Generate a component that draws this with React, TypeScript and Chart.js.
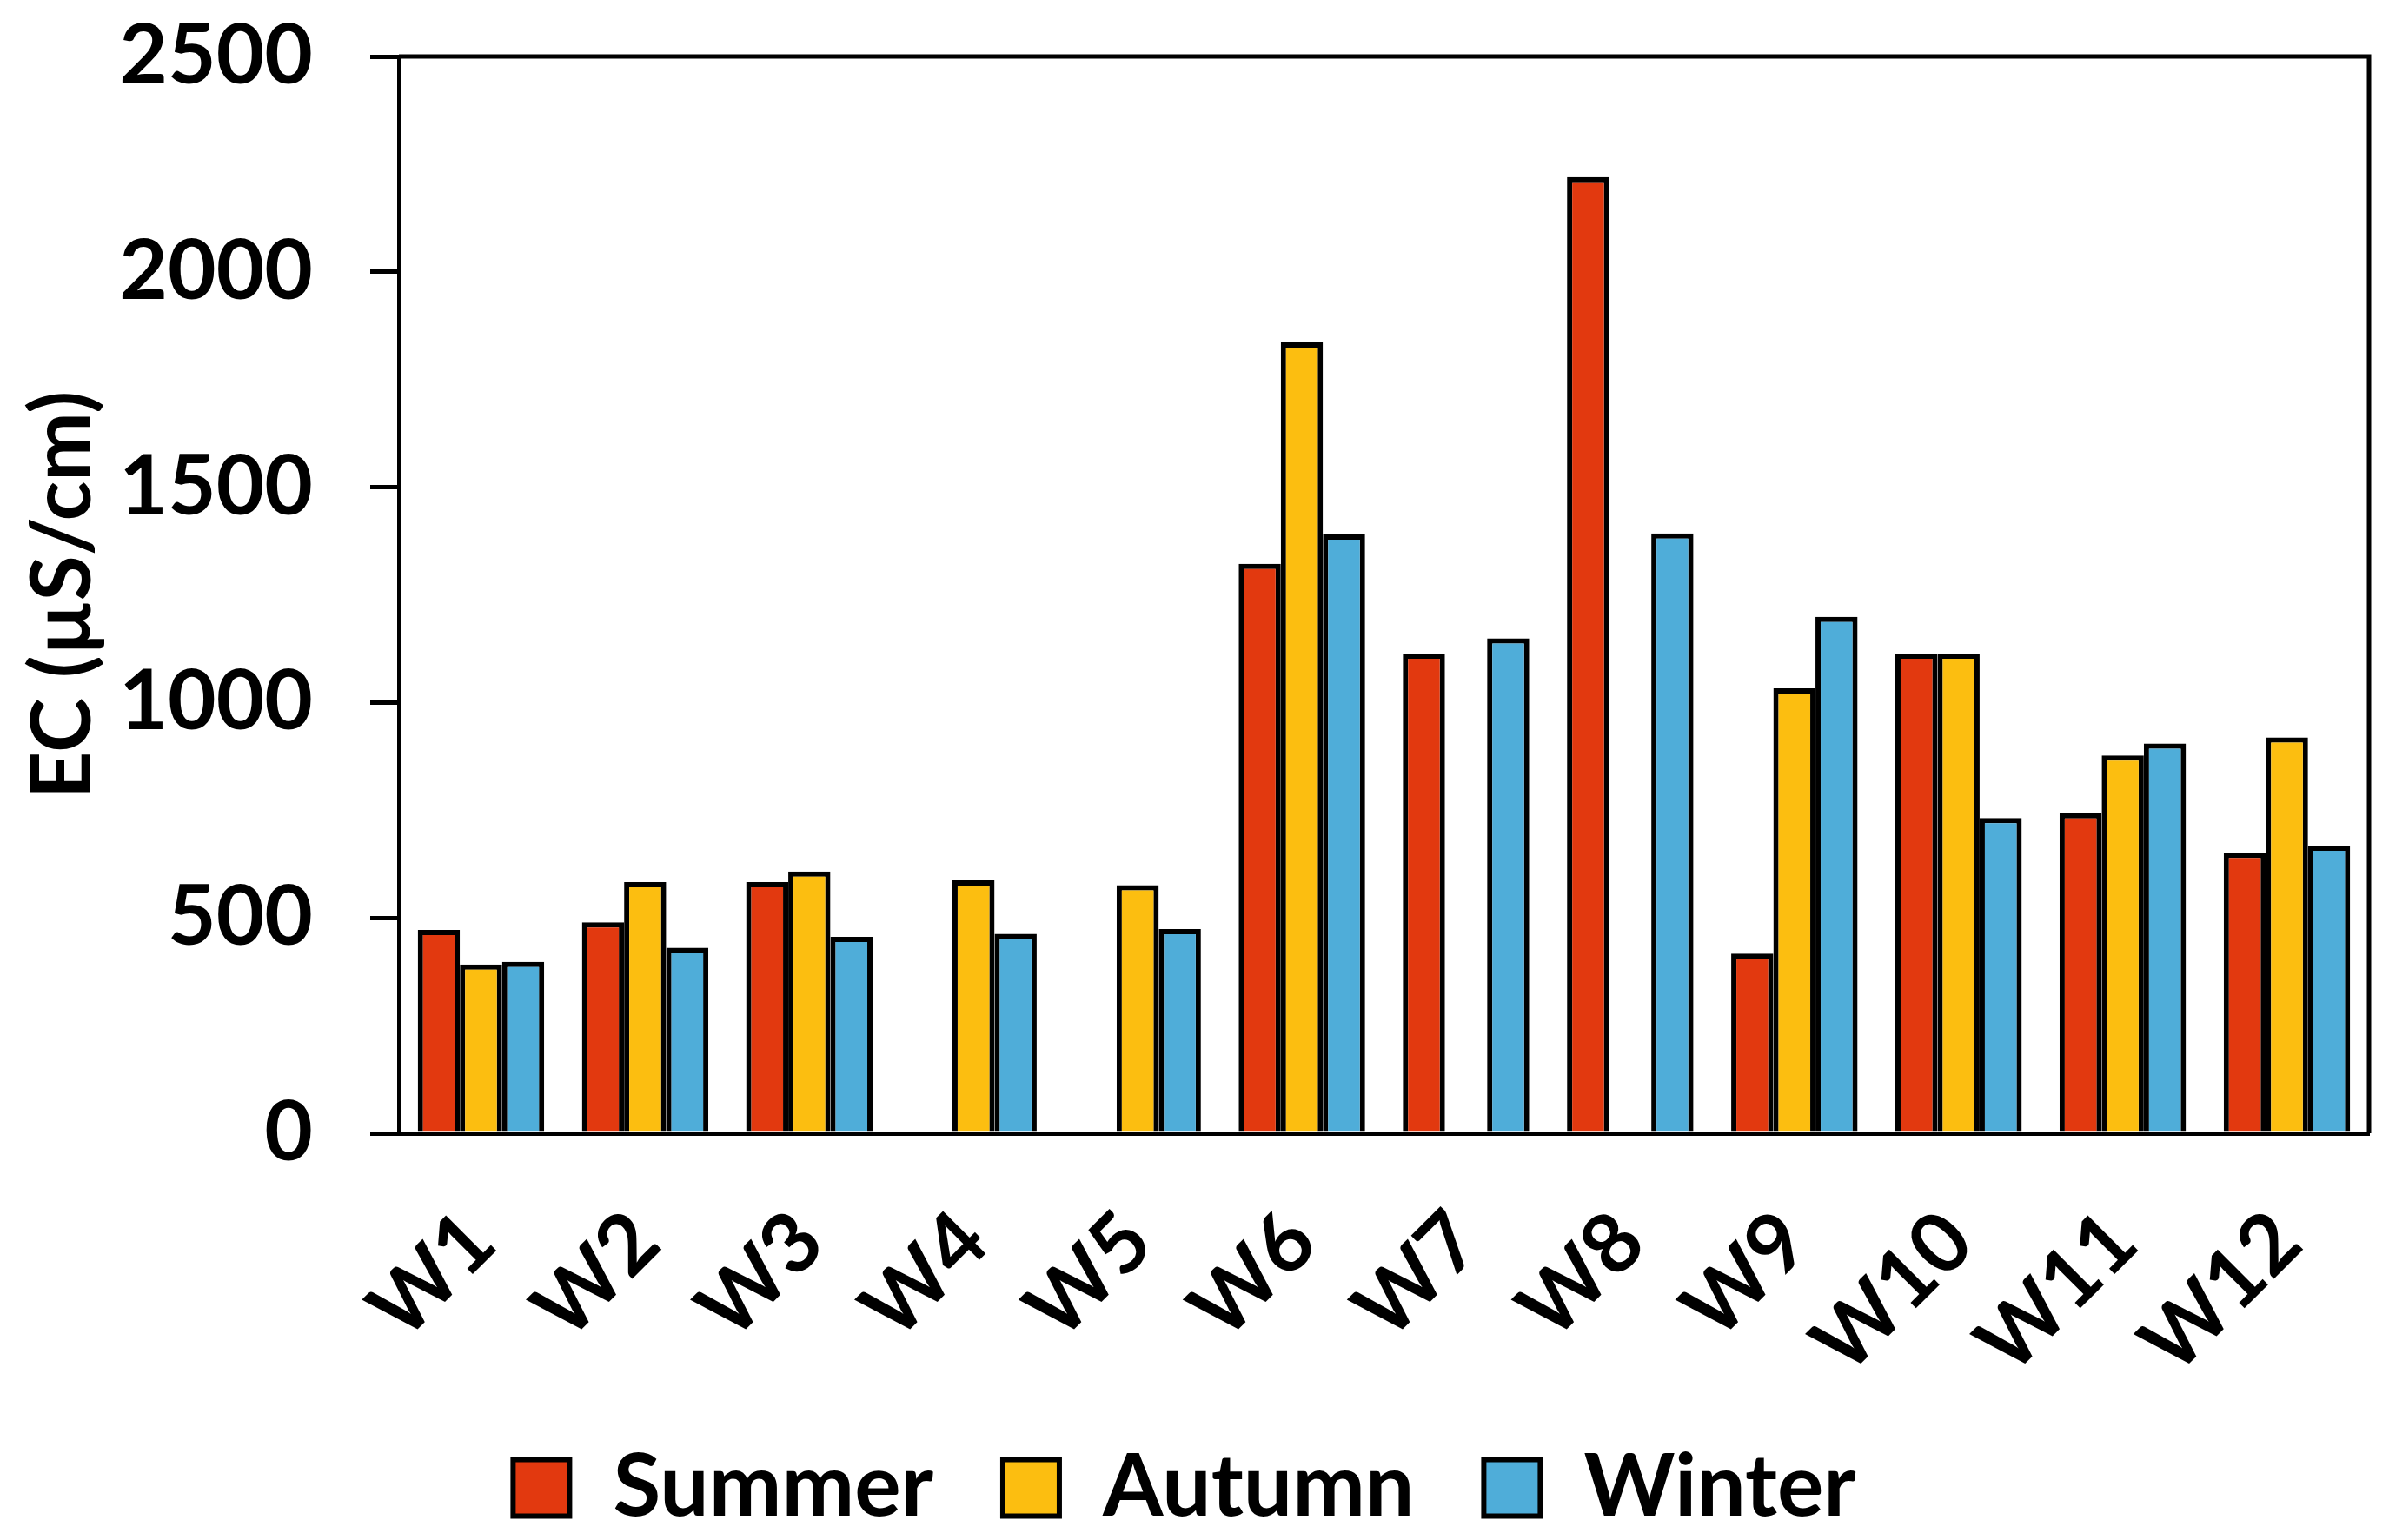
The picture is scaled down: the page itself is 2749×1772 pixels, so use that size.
import React, { useEffect, useRef } from "react";
import { Chart, registerables } from "chart.js";

Chart.register(...registerables);

const categories = ["W1", "W2", "W3", "W4", "W5", "W6", "W7", "W8", "W9", "W10", "W11", "W12"];
const summer = [472, 490, 583, null, null, 1322, 1114, 2220, 417, 1114, 743, 651];
const autumn = [392, 583, 608, 587, 576, 1836, null, null, 1033, 1114, 877, 919];
const winter = [398, 431, 456, 463, 474, 1390, 1149, 1393, 1199, 732, 905, 668];
const yTicks = [0, 500, 1000, 1500, 2000, 2500];

const FONT = "Lato, 'Open Sans', sans-serif";
const LEGEND_FONT = 100;
const LEGEND_PAD = 80;

const frame = {
  id: "frame",
  afterDraw(chart: any) {
    const { ctx, chartArea } = chart;
    ctx.save();
    ctx.strokeStyle = "#000";
    ctx.lineWidth = 5;
    ctx.beginPath();
    ctx.moveTo(chartArea.left, chartArea.top);
    ctx.lineTo(chartArea.right, chartArea.top);
    ctx.lineTo(chartArea.right, chartArea.bottom);
    ctx.stroke();
    ctx.restore();
  },
};

export default function App() {
  const ref = useRef<HTMLCanvasElement>(null);
  useEffect(() => {
    document.body.style.margin = "0";
    const chart = new Chart(ref.current!, {
      type: "bar",
      data: {
        labels: categories,
        datasets: [
          { label: "Summer", data: summer, backgroundColor: "#E2390F", borderColor: "#000", borderWidth: 6 },
          { label: "Autumn", data: autumn, backgroundColor: "#FCBE10", borderColor: "#000", borderWidth: 6 },
          { label: "Winter", data: winter, backgroundColor: "#4FADD9", borderColor: "#000", borderWidth: 6 },
        ],
      },
      options: {
        responsive: false,
        animation: false,
        devicePixelRatio: 1,
        layout: { padding: { top: 65, right: 23, left: 0, bottom: 0 } },
        datasets: { bar: { categoryPercentage: 0.77, barPercentage: 1.0 } },
        plugins: {
          tooltip: { enabled: false },
          legend: {
            position: "bottom",
            labels: {
              font: { family: FONT, size: LEGEND_FONT, weight: "bold" },
              color: "#000",
              boxWidth: 65,
              boxHeight: 65,
              padding: LEGEND_PAD,
            },
          },
        },
        scales: {
          x: {
            grid: { display: false },
            border: { display: true, color: "#000", width: 5 },
            ticks: {
              font: { family: FONT, size: 96, weight: "bold" },
              color: "#000",
              minRotation: 45,
              maxRotation: 45,
              padding: 60,
              autoSkip: false,
            },
            afterFit(scale: any) {
              scale.height = 1772 - 1304 - 0 - (LEGEND_FONT + LEGEND_PAD + 10);
              scale.paddingLeft = 0;
              scale.paddingRight = 0;
            },
          },
          y: {
            min: 0,
            max: 2500,
            afterBuildTicks(scale: any) {
              scale.ticks = yTicks.map((v) => ({ value: v }));
            },
            grid: { display: true, drawOnChartArea: false, drawTicks: true, tickLength: 33, color: "#000", lineWidth: 5 },
            border: { display: true, color: "#000", width: 5 },
            ticks: {
              font: { family: FONT, size: 96, weight: "bold" },
              color: "#000",
              padding: 66,
              callback: (v: any) => String(v),
            },
            title: {
              display: true,
              text: "EC (µS/cm)",
              color: "#000",
              font: { family: FONT, size: 95, weight: "bold" },
              padding: { top: 16, bottom: 0 },
            },
            afterFit(scale: any) {
              scale.width = 459;
              scale.paddingTop = 0;
              scale.paddingBottom = 0;
            },
          },
        },
      },
      plugins: [frame],
    });
    return () => chart.destroy();
  }, []);
  return <canvas ref={ref} width={2749} height={1772} style={{ display: "block", width: 2749, height: 1772 }} />;
}
